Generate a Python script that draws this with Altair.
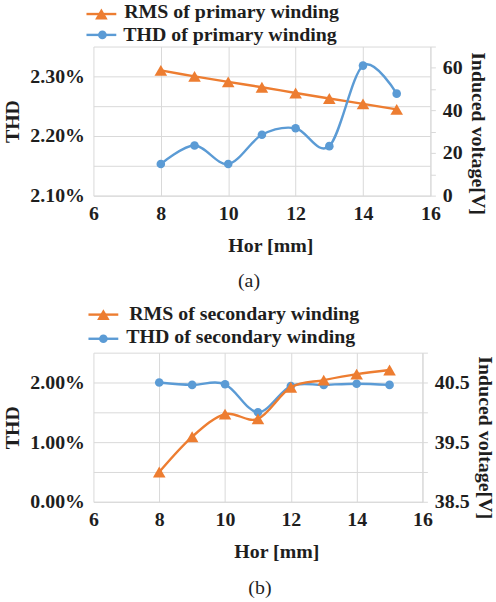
import altair as alt
import pandas as pd

# Hor displacement [mm]
hor = [8, 9, 10, 11, 12, 13, 14, 15]

# (a) primary winding: THD in %, induced RMS voltage in V
thd_primary = [2.153, 2.184, 2.153, 2.202, 2.213, 2.183, 2.318, 2.271]
rms_primary = [58.8, 56.0, 53.4, 50.9, 48.2, 45.6, 43.1, 40.5]

# (b) secondary winding: THD in %, induced RMS voltage in V
thd_secondary = [2.00, 1.96, 1.97, 1.50, 1.94, 1.96, 1.98, 1.96]
rms_secondary = [39.00, 39.59, 39.97, 39.89, 40.42, 40.54, 40.64, 40.71]

x_ticks = [6, 8, 10, 12, 14, 16]
thd_ticks_a = [0.021, 0.0215, 0.022, 0.0225, 0.023, 0.0235]
v_ticks_a = [0, 10, 20, 30, 40, 50, 60, 70]
thd_ticks_b = [0.0, 0.005, 0.01, 0.015, 0.02, 0.025]
v_ticks_b = [38.5, 39.0, 39.5, 40.0, 40.5, 41.0]

FONT = "Liberation Serif"
FS = 20
ORANGE = "#ED7D31"
BLUE = "#5B9BD5"
GRID = "#d9d9d9"
INK = "#1e1e1e"


def x_enc(title_x):
    return alt.X(
        "hor:Q",
        scale=alt.Scale(domain=[6, 16], nice=False, zero=False),
        axis=alt.Axis(
            values=x_ticks, title="Hor [mm]", grid=True, gridColor=GRID,
            domain=True, domainColor=GRID, ticks=False,
            labelFont=FONT, labelFontSize=FS, labelFontWeight="bold", labelColor=INK,
            labelPadding=8, labelFlush=False,
            titleFont=FONT, titleFontSize=FS, titleFontWeight="bold", titleColor=INK,
            titlePadding=12, titleX=title_x,
        ),
    )


def panel(thd, rms, thd_dom, thd_vals, thd_test, v_dom, v_vals, v_fmt, v_test,
          width, title_x, vt_y, legend_rows, tag, tag_dx, tag_offset, rms_on_top):
    df = pd.DataFrame({"hor": hor, "thd": [v / 100 for v in thd], "rms": rms})
    base = alt.Chart(df)

    y_thd = alt.Y(
        "thd:Q",
        scale=alt.Scale(domain=thd_dom, nice=False, zero=False),
        axis=alt.Axis(
            orient="left", values=thd_vals, format=".2%",
            labelExpr=thd_test + " ? format(datum.value, '.2%') : ''",
            grid=True, gridColor=GRID, domain=False, ticks=False,
            labelFont=FONT, labelFontSize=FS, labelFontWeight="bold", labelColor=INK,
            labelPadding=9, title="THD",
            titleFont=FONT, titleFontSize=FS, titleFontWeight="bold", titleColor=INK,
            titlePadding=7,
        ),
    )
    y_rms = alt.Y(
        "rms:Q",
        scale=alt.Scale(domain=v_dom, nice=False, zero=False),
        axis=alt.Axis(
            orient="right", values=v_vals, format=v_fmt,
            labelExpr=v_test + " ? format(datum.value, '" + v_fmt + "') : ''",
            grid=False, domain=True, domainColor=GRID, ticks=True, tickColor=GRID,
            tickSize=5, labelFont=FONT, labelFontSize=FS, labelFontWeight="bold",
            labelColor=INK, labelPadding=7, title="Induced voltage[V]",
            titleFont=FONT, titleFontSize=FS, titleFontWeight="bold", titleColor=INK,
            titleAngle=90, titleY=vt_y, titlePadding=5,
        ),
    )
    xe = x_enc(title_x)

    thd_layer = alt.layer(
        base.mark_line(color=BLUE, strokeWidth=2.4, interpolate="cardinal").encode(x=xe, y=y_thd),
        base.mark_point(shape="circle", filled=True, opacity=1, color=BLUE, size=75).encode(x=xe, y=y_thd),
    )
    rms_layer = alt.layer(
        base.mark_line(color=ORANGE, strokeWidth=2.4, interpolate="cardinal").encode(x=xe, y=y_rms),
        base.mark_point(shape="triangle-up", filled=True, opacity=1, color=ORANGE, size=160).encode(x=xe, y=y_rms),
    )
    if rms_on_top:
        data_layer = alt.layer(thd_layer, rms_layer).resolve_scale(y="independent")
    else:
        data_layer = alt.layer(rms_layer, thd_layer).resolve_scale(y="independent")

    # legend drawn above the plot area: line sample, marker and label per series
    legend = []
    for label, color, shape, msize, ly, ty, lx0, lx1, mx, tx in legend_rows:
        one = alt.Chart(pd.DataFrame({"label": [label]}))
        legend.append(one.mark_rule(color=color, strokeWidth=2.4).encode(
            x=alt.value(lx0), x2=alt.value(lx1), y=alt.value(ly)))
        legend.append(one.mark_point(shape=shape, filled=True, opacity=1, color=color, size=msize).encode(
            x=alt.value(mx), y=alt.value(ly)))
        legend.append(one.mark_text(align="left", baseline="alphabetic", font=FONT, fontSize=FS,
                                    fontWeight="bold", color=INK).encode(
            x=alt.value(tx), y=alt.value(ty), text="label:N"))

    return alt.layer(data_layer, *legend).properties(
        width=width, height=150,
        title=alt.TitleParams(text=tag, orient="bottom", anchor="middle", frame="group",
                              font=FONT, fontSize=FS, fontWeight="normal", color=INK,
                              offset=tag_offset, dx=tag_dx),
    )


top = panel(
    thd_primary, rms_primary, [0.021, 0.0235], thd_ticks_a,
    "round(datum.value * 2000) % 2 == 0",
    [0, 70], v_ticks_a, "d", "datum.value % 20 == 0", 339, 178, 87,
    [
        ("RMS of primary winding", ORANGE, "triangle-up", 160, -32.7, -28.4, -7, 23, 8, 31),
        ("THD of primary winding", BLUE, "circle", 75, -11.7, -6, -7, 23, 9, 30),
    ],
    "(a)", -13, 16, False,
)

bottom = panel(
    thd_secondary, rms_secondary, [0.0, 0.025], thd_ticks_b,
    "round(datum.value * 200) % 2 == 0",
    [38.5, 41.0], v_ticks_b, ".1f", "round(datum.value * 2) % 2 == 1", 331, 184, 85,
    [
        ("RMS of secondary winding", ORANGE, "triangle-up", 160, -38.3, -33.3, -5, 25, 10, 36),
        ("THD of secondary winding", BLUE, "circle", 75, -14, -10, -5, 25, 10, 33),
    ],
    "(b)", 2, 17, True,
)

chart = alt.vconcat(top, bottom, spacing=12).properties(
    padding={"left": 3, "top": 0, "right": 2, "bottom": 0},
    background="white",
).configure_view(stroke=None)

chart.save("out.html", embed_options={"renderer": "svg", "actions": False})
